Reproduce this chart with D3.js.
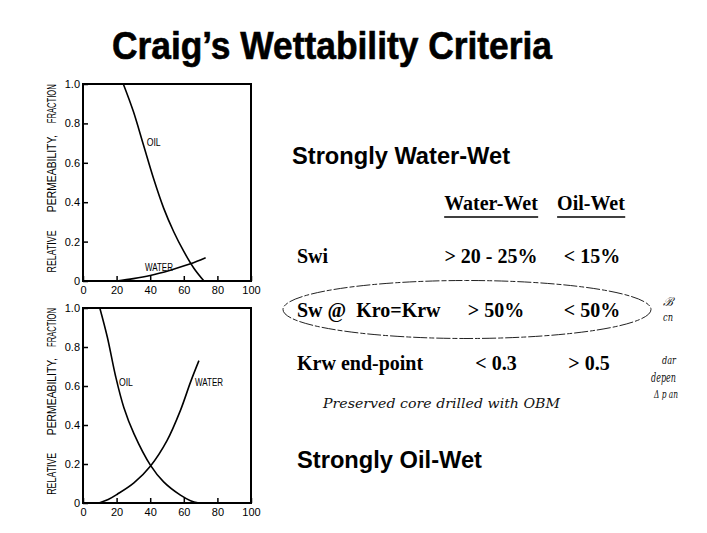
<!DOCTYPE html>
<html>
<head>
<meta charset="utf-8">
<script src="https://cdn.jsdelivr.net/npm/d3@7"></script>
<style>
  body { margin: 0; background: #fff; }
  svg { display: block; }
</style>
</head>
<body>
<div id="chart"></div>
<script>
//******************
// Data
//******************
var swTicks = [0, 20, 40, 60, 80, 100];
var swTickLabels = ["0", "20", "40", "60", "80", "100"];
var krTicks = [0, 0.2, 0.4, 0.6, 0.8, 1.0];
var krTickLabels = ["0", "0.2", "0.4", "0.6", "0.8", "1.0"];

// strongly water-wet curves [Sw %, kr]
var waterWetOil = [[24, 1.0], [30, 0.86], [36, 0.69], [42, 0.52], [48, 0.37], [54, 0.25], [60, 0.15], [66, 0.065], [72, 0]];
var waterWetWater = [[20, 0], [30, 0.012], [40, 0.028], [52, 0.055], [64, 0.087], [73, 0.118]];

// strongly oil-wet curves [Sw %, kr]
var oilWetOil = [[10, 1.0], [14.5, 0.85], [19.4, 0.65], [24.3, 0.49], [30.3, 0.356], [40.2, 0.193], [48, 0.108], [58, 0.04], [64, 0.012], [69, 0]];
var oilWetWater = [[9.5, 0], [15, 0.018], [20.4, 0.045], [30.3, 0.103], [40.2, 0.19], [50, 0.32], [58, 0.475], [64, 0.62], [69, 0.73]];

// table
var criteria = ["Swi", "Sw @  Kro=Krw", "Krw end-point"];
var waterWetValues = ["> 20 - 25%", "> 50%", "< 0.3"];
var oilWetValues = ["< 15%", "< 50%", "> 0.5"];
var columns = ["Water-Wet", "Oil-Wet"];

var width = 707;
var height = 533;

var svg = d3
  .select("#chart")
  .append("svg")
  .attr("width", width)
  .attr("height", height);

svg.append("rect").attr("width", width).attr("height", height).attr("fill", "#fff");

// title
svg
  .append("text")
  .attr("x", 112)
  .attr("y", 59)
  .attr("font-family", "Liberation Sans, Arial, sans-serif")
  .attr("font-weight", "bold")
  .attr("font-size", 38)
  .attr("stroke", "#000")
  .attr("stroke-width", 0.6)
  .attr("textLength", 440)
  .attr("lengthAdjust", "spacingAndGlyphs")
  .text("Craig\u2019s Wettability Criteria");

//******************
// Rel-perm panels
//******************
var panels = [
  { top: 84, bottom: 281, oil: waterWetOil, water: waterWetWater,
    oilLabel: [37.9, 0.685], waterLabel: [36.9, 0.052] },
  { top: 308, bottom: 503, oil: oilWetOil, water: oilWetWater,
    oilLabel: [21.4, 0.6], waterLabel: [66.7, 0.6] }
];

// where the words of the axis title sit, in kr units
var yTitleWords = [["FRACTION", 0.9, 39], ["PERMEABILITY,", 0.545, 77], ["RELATIVE", 0.15, 42]];

panels.forEach((p) => {
  var x = d3.scaleLinear().domain([0, 100]).range([83, 251]);
  var y = d3.scaleLinear().domain([0, 1]).range([p.bottom, p.top]);
  var g = svg.append("g");

  var xAxis = d3
    .axisBottom(x)
    .tickValues(swTicks)
    .tickFormat((d, i) => swTickLabels[i])
    .tickSizeInner(-5)
    .tickSizeOuter(0)
    .tickPadding(5);
  var yAxis = d3
    .axisLeft(y)
    .tickValues(krTicks)
    .tickFormat((d, i) => krTickLabels[i])
    .tickSizeInner(-5)
    .tickSizeOuter(0)
    .tickPadding(3);

  g.append("g")
    .attr("transform", `translate(0,${p.bottom})`)
    .call(xAxis)
    .call((g) => g.select(".domain").remove())
    .call((g) => g.selectAll(".tick line").attr("stroke-width", 1.5))
    .call((g) =>
      g.selectAll("text")
        .attr("font-family", "Liberation Sans Narrow, Liberation Sans, sans-serif")
        .attr("font-size", 11)
        .attr("fill", "#000")
    );
  g.append("g")
    .attr("transform", "translate(83,0)")
    .call(yAxis)
    .call((g) => g.select(".domain").remove())
    .call((g) => g.selectAll(".tick line").attr("stroke-width", 1.5))
    .call((g) =>
      g.selectAll("text")
        .attr("font-family", "Liberation Sans Narrow, Liberation Sans, sans-serif")
        .attr("font-size", 11)
        .attr("fill", "#000")
    );

  // frame
  g.append("rect")
    .attr("x", x(0))
    .attr("y", y(1))
    .attr("width", x(100) - x(0))
    .attr("height", y(0) - y(1))
    .attr("fill", "none")
    .attr("stroke", "#000")
    .attr("stroke-width", 2);

  var line = d3
    .line()
    .x((d) => x(d[0]))
    .y((d) => y(d[1]))
    .curve(d3.curveCatmullRom);

  g.selectAll(".curve")
    .data([p.oil, p.water])
    .join("path")
    .attr("class", "curve")
    .attr("d", line)
    .attr("fill", "none")
    .attr("stroke", "#000")
    .attr("stroke-width", 1.6);

  // curve labels
  g.append("text")
    .attr("x", x(p.oilLabel[0]))
    .attr("y", y(p.oilLabel[1]))
    .attr("font-family", "Liberation Sans, sans-serif")
    .attr("font-size", 10.5)
    .attr("textLength", 14)
    .attr("lengthAdjust", "spacingAndGlyphs")
    .text("OIL");
  g.append("text")
    .attr("x", x(p.waterLabel[0]))
    .attr("y", y(p.waterLabel[1]))
    .attr("font-family", "Liberation Sans, sans-serif")
    .attr("font-size", 10.5)
    .attr("textLength", 28)
    .attr("lengthAdjust", "spacingAndGlyphs")
    .text("WATER");

  // y-axis title
  yTitleWords.forEach((w) => {
    g.append("text")
      .attr("transform", `translate(56,${y(w[1])}) rotate(-90)`)
      .attr("text-anchor", "middle")
      .attr("font-family", "Liberation Sans, sans-serif")
      .attr("font-size", 12)
      .attr("textLength", w[2])
      .attr("lengthAdjust", "spacingAndGlyphs")
      .text(w[0]);
  });
});

//******************
// Criteria table
//******************
var headingFont = "Liberation Sans, Arial, sans-serif";
var tableFont = "Liberation Serif, Times New Roman, serif";

svg.append("text")
  .attr("x", 292)
  .attr("y", 164)
  .attr("font-family", headingFont)
  .attr("font-weight", "bold")
  .attr("font-size", 24)
  .attr("textLength", 218)
  .attr("lengthAdjust", "spacingAndGlyphs")
  .text("Strongly Water-Wet");

svg.append("text")
  .attr("x", 297)
  .attr("y", 468)
  .attr("font-family", headingFont)
  .attr("font-weight", "bold")
  .attr("font-size", 24)
  .attr("textLength", 185)
  .attr("lengthAdjust", "spacingAndGlyphs")
  .text("Strongly Oil-Wet");

var colX = d3.scaleOrdinal().domain(columns).range([491, 591]);
var rowY = d3.scalePoint().domain(criteria).range([263, 370]);

var heads = svg
  .selectAll(".head")
  .data(columns)
  .join("text")
  .attr("class", "head")
  .attr("x", (d) => colX(d))
  .attr("y", 210)
  .attr("text-anchor", "middle")
  .attr("font-family", tableFont)
  .attr("font-weight", "bold")
  .attr("font-size", 20)
  .text((d) => d);

heads.each(function (d) {
  var b = this.getBBox();
  svg.append("line")
    .attr("x1", b.x)
    .attr("x2", b.x + b.width)
    .attr("y1", 217)
    .attr("y2", 217)
    .attr("stroke", "#000")
    .attr("stroke-width", 1.3);
});

svg.selectAll(".crit")
  .data(criteria)
  .join("text")
  .attr("class", "crit")
  .attr("x", 297)
  .attr("y", (d) => rowY(d))
  .attr("font-family", tableFont)
  .attr("font-weight", "bold")
  .attr("font-size", 20)
  .attr("xml:space", "preserve")
  .style("white-space", "pre")
  .text((d) => d);

svg.selectAll(".ww")
  .data(waterWetValues)
  .join("text")
  .attr("class", "ww")
  .attr("x", (d, i) => colX("Water-Wet") + (i == 0 ? 0 : 5))
  .attr("y", (d, i) => rowY(criteria[i]))
  .attr("text-anchor", "middle")
  .attr("font-family", tableFont)
  .attr("font-weight", "bold")
  .attr("font-size", 20)
  .text((d) => d);

svg.selectAll(".ow")
  .data(oilWetValues)
  .join("text")
  .attr("class", "ow")
  .attr("x", (d, i) => colX("Oil-Wet") + (i == 2 ? -2 : 1))
  .attr("y", (d, i) => rowY(criteria[i]))
  .attr("text-anchor", "middle")
  .attr("font-family", tableFont)
  .attr("font-weight", "bold")
  .attr("font-size", 20)
  .text((d) => d);

// hand-drawn loop round the Sw @ Kro=Krw row
var cy = rowY(criteria[1]) - 7;
svg.append("ellipse")
  .attr("cx", 467)
  .attr("cy", cy)
  .attr("rx", 184)
  .attr("ry", 29)
  .attr("fill", "none")
  .attr("stroke", "#222")
  .attr("stroke-width", 1)
  .attr("stroke-dasharray", "14 2 5 2");

// handwritten notes
var notes = [
  ["Preserved core drilled with OBM", 323, 408, 12, 237],
  ["\u212C", 663, 306, 12, 10],
  ["cn", 663, 321, 11, 10],
  ["dar", 662, 364, 11, 14],
  ["depen", 651, 382, 12, 25],
  ["\u0394 p an", 654, 398, 11, 24]
];
svg.selectAll(".note")
  .data(notes)
  .join("text")
  .attr("class", "note")
  .attr("x", (d) => d[1])
  .attr("y", (d) => d[2])
  .attr("font-family", "DejaVu Serif, serif")
  .attr("font-style", "italic")
  .attr("font-size", (d) => d[3])
  .attr("textLength", (d) => d[4])
  .attr("lengthAdjust", "spacingAndGlyphs")
  .attr("fill", "#111")
  .text((d) => d[0]);
</script>
</body>
</html>
